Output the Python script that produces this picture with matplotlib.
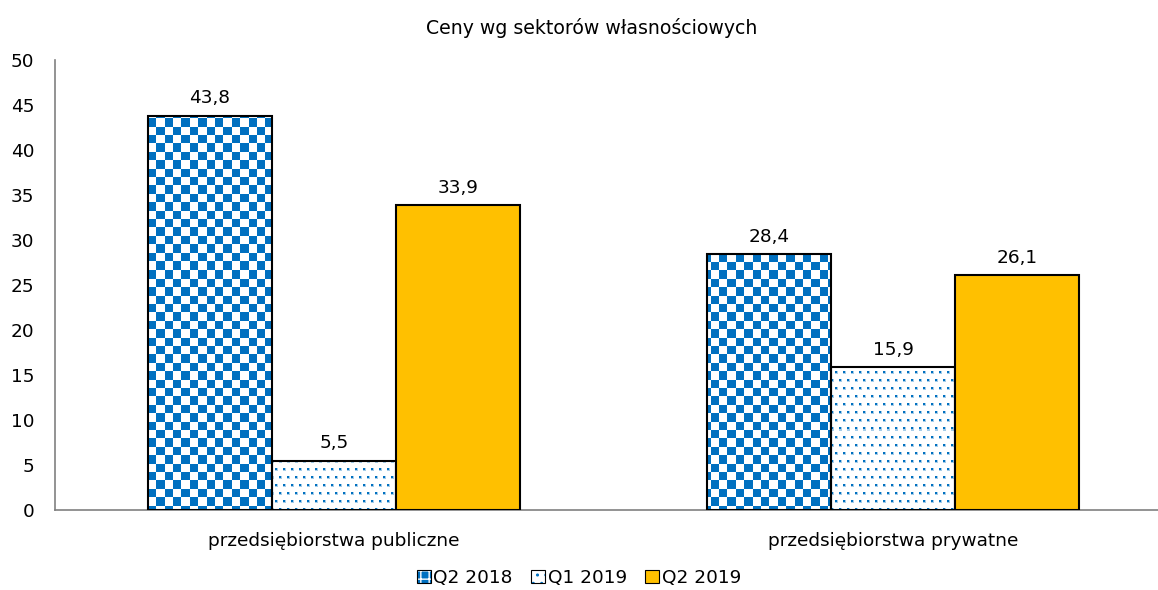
import numpy as np
import matplotlib
matplotlib.use("Agg")
import matplotlib.pyplot as plt
from matplotlib.patches import Patch
from matplotlib.legend_handler import HandlerTuple

categories = ["przedsiębiorstwa publiczne", "przedsiębiorstwa prywatne"]
series = ["Q2 2018", "Q1 2019", "Q2 2019"]
q2_2018 = [43.8, 28.4]
q1_2019 = [5.5, 15.9]
q2_2019 = [33.9, 26.1]

blue = "#0070C0"
orange = "#FFC000"

W, H, DPI = 1158, 590, 100
fig = plt.figure(figsize=(W / DPI, H / DPI), dpi=DPI)
ax_l, ax_b, ax_r, ax_t = 55 / W, 1 - 510 / H, 1.0, 1 - 60 / H
ax = fig.add_axes([ax_l, ax_b, ax_r - ax_l, ax_t - ax_b])

xlim = (-0.499, 1.474)
ylim = (0, 50)
ax.set_xlim(*xlim)
ax.set_ylim(*ylim)

# pixel-sized pattern images spanning the whole plot area
pw = int(round((ax_r - ax_l) * W))
ph = int(round((ax_t - ax_b) * H))
yy, xx = np.mgrid[0:ph, 0:pw]
cell = 8.4
checker = ((np.floor(xx / cell) + np.floor(yy / cell)) % 2 == 0)
blue_rgb = np.array([0, 112, 192]) / 255.0

checker_img = np.ones((ph, pw, 3))
checker_img[checker] = blue_rgb

dots_img = np.ones((ph, pw, 3))
row = (yy // 8)
shift = (row % 2) * 4
dot = ((yy % 8) < 2) & (((xx + shift) % 8) < 2)
halo = ((yy % 8) < 3) & (((xx + shift) % 8) < 3) & ~dot
dots_img[halo] = 1 - (1 - blue_rgb) * 0.35
dots_img[dot] = blue_rgb

x = np.arange(len(categories))
w = 0.2218
vals = [q2_2018, q1_2019, q2_2019]
fills = [checker_img, dots_img, None]

for i, (v, img) in enumerate(zip(vals, fills)):
    pos = x + (i - 1) * w
    bars = ax.bar(pos, v, w, color=orange if img is None else "white",
                  edgecolor="black", linewidth=1.5, zorder=3)
    for b in bars:
        if img is not None:
            im = ax.imshow(img, extent=(xlim[0], xlim[1], ylim[0], ylim[1]),
                           origin="upper", aspect="auto",
                           interpolation="nearest", zorder=2.5)
            im.set_clip_path(b)
            b.set_facecolor("none")
    for b, val in zip(bars, v):
        ax.annotate(f"{val:.1f}".replace(".", ","),
                    (b.get_x() + b.get_width() / 2, val),
                    xytext=(0, 6), textcoords="offset points",
                    ha="center", va="bottom", fontsize=13.3)

ax.set_xlim(*xlim)
ax.set_ylim(*ylim)
ax.set_yticks(np.arange(0, 51, 5))
ax.set_xticks(x)
ax.set_xticklabels(categories)
ax.tick_params(axis="both", length=0, labelsize=13.3)
ax.tick_params(axis="y", pad=15)
ax.tick_params(axis="x", pad=16)
for s in ["top", "right"]:
    ax.spines[s].set_visible(False)
for s in ["left", "bottom"]:
    ax.spines[s].set_color("#808080")
    ax.spines[s].set_linewidth(1.2)

fig.text(592 / W, 1 - 28 / H, "Ceny wg sektorów własnościowych",
         ha="center", va="center", fontsize=13.6)

outline = dict(facecolor="none", edgecolor="black", linewidth=0.8)
handles = [
    (Patch(facecolor=blue, edgecolor="white", hatch="++", linewidth=0), Patch(**outline)),
    (Patch(facecolor="white", edgecolor=blue, hatch="..", linewidth=0), Patch(**outline)),
    (Patch(facecolor=orange, linewidth=0), Patch(**outline)),
]
fig.legend(handles, series, loc="center", bbox_to_anchor=(0.5, 1 - 578 / H),
           ncol=3, frameon=False, fontsize=13.3, handlelength=0.75,
           handleheight=0.75, handletextpad=0.15, columnspacing=1.0,
           handler_map={tuple: HandlerTuple(ndivide=1, pad=0)})

fig.savefig("out.png", dpi=DPI)
